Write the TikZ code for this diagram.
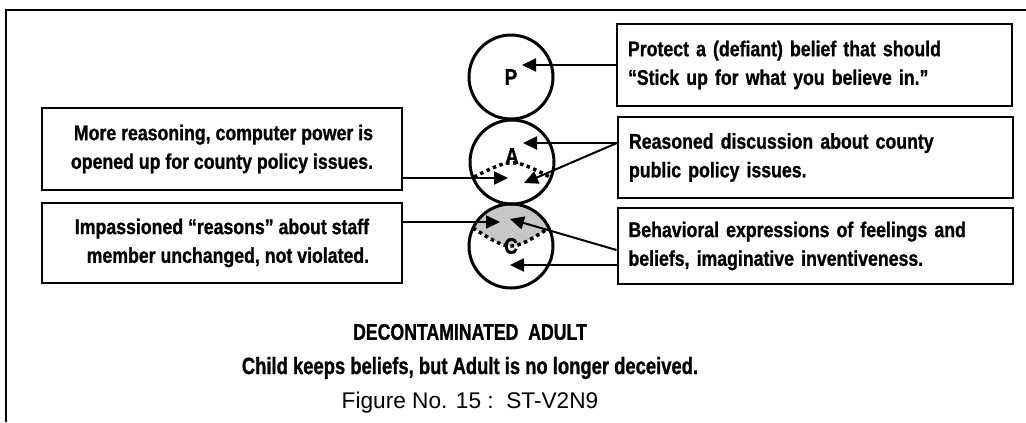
\documentclass[tikz,border=0pt]{standalone}
\usepackage{fontspec}
\setmainfont{Liberation Sans}
\newfontfamily\boxfont[FakeStretch=0.83,FakeBold=1]{Liberation Sans}
\newfontfamily\capfont[FakeStretch=0.78,FakeBold=1]{Liberation Sans}
\usetikzlibrary{arrows.meta}
\newlength{\du}
\setlength{\du}{0.75pt}

\begin{document}
\begin{tikzpicture}[
  remark/.style={draw, line width=2\du, font=\boxfont\bfseries\fontsize{16}{21.5}\selectfont, inner xsep=11\du, inner ysep=0pt},
  remarkR/.style={remark, align=left, text width=373\du},
  remarkL/.style={remark, align=right, minimum width=360\du},
  ego/.style={draw, circle, line width=3\du, minimum size=84\du, inner sep=0pt, font=\boxfont\bfseries\fontsize{17}{18}\selectfont},
  pointer/.style={line width=2\du, -{Triangle[length=10.5pt,width=9.75pt]}},
  boundary/.style={line width=3.5\du, dash pattern=on 3.5\du off 3.5\du},
  caption/.style={font=\fontsize{17}{20}\selectfont}
]
\pgftransformxscale{1.000000}
\pgftransformyscale{-1.000000}
\useasboundingbox (0\du,0\du) rectangle (1026\du,422\du);
% frame, top and left side only
\draw[line width=2\du] (6\du,422\du)--(6\du,10\du)--(1026\du,10\du);
% contaminated part of the child, shaded
\begin{scope}
\clip (511\du,246\du) circle (42\du);
\fill[black!22] (473\du,228\du) .. controls (511\du,252\du) .. (549\du,228\du)--(560\du,195\du)--(460\du,195\du)--cycle;
\end{scope}
% ego states
\node[ego] (P) at (511\du,77\du) {P};
\node[ego] (A) at (512\du,162\du) {};
\node[ego] (C) at (511\du,246\du) {C};
\node[font=\boxfont\bfseries\fontsize{17}{18}\selectfont, inner sep=0pt] (labA) at (512\du,156\du) {A};
\draw[boundary] (474\du,177\du) .. controls (512\du,158\du) .. (550\du,177\du);
\draw[boundary] (473\du,228\du) .. controls (511\du,252\du) .. (549\du,228\du);
% remarks on the right
\node[remarkR, minimum height=82\du] (boxP) at (814.5\du,65\du) {Protect a (defiant) belief that should\\“Stick up for what you believe in.”};
\node[remarkR, minimum height=81\du] (boxA) at (815.5\du,157.5\du) {Reasoned discussion about county\\public policy issues.};
\node[remarkR, minimum height=76\du] (boxC) at (815\du,246\du) {Behavioral expressions of feelings and\\beliefs, imaginative inventiveness.};
% remarks on the left
\node[remarkL, minimum height=82\du] (boxL1) at (222\du,149\du) {More reasoning, computer power is\\opened up for county policy issues.};
\node[remarkL, minimum height=80\du] (boxL2) at (222\du,243\du) {Impassioned “reasons” about staff\\member unchanged, not violated.};
% arrow tips
\coordinate (tipP) at (522\du,65\du);
\coordinate (tipA1) at (523\du,143\du);
\coordinate (tipA2) at (524\du,183\du);
\coordinate (tipL1) at (508\du,178\du);
\coordinate (tipL2) at (500\du,222\du);
\coordinate (tipC1) at (510\du,219\du);
\coordinate (tipC2) at (510\du,265\du);
\draw[pointer] (boxP.west)--(tipP);
\draw[pointer] (boxA.west |- tipA1)--(tipA1);
\draw[pointer] (boxA.west |- tipA1)--(tipA2);
\draw[pointer] (boxL1.east |- tipL1)--(tipL1);
\draw[pointer] (boxL2.east |- tipL2)--(tipL2);
\draw[pointer] (boxC.west |- 0,250\du)--(tipC1);
\draw[pointer] (boxC.west |- tipC2)--(tipC2);
% caption
\node[caption, font=\capfont\bfseries\fontsize{17}{20}\selectfont] (title) at (470\du,332\du) {DECONTAMINATED\ \ ADULT};
\node[caption, font=\capfont\bfseries\fontsize{17.7}{20}\selectfont] (subtitle) at (470\du,368\du) {Child keeps beliefs, but Adult is no longer deceived.};
\node[caption] (figno) at (470\du,403\du) {Figure No. 15 :\ \ ST-V2N9};
\end{tikzpicture}
\end{document}
